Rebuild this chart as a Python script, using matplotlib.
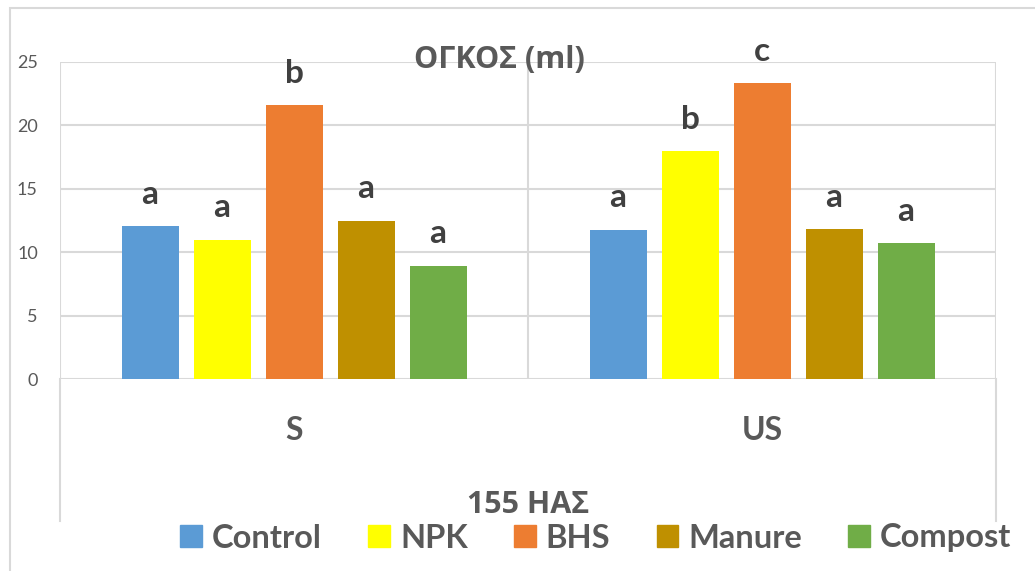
import numpy as np
import matplotlib
matplotlib.use("Agg")
import matplotlib.pyplot as plt
from matplotlib.patches import Rectangle, Patch

plt.rcParams['font.family'] = ['Lato', 'Open Sans', 'DejaVu Sans']

# data
groups = ["S", "US"]
treatments = ["Control", "NPK", "BHS", "Manure", "Compost"]
colors = ["#5B9BD5", "#FFFF00", "#ED7D31", "#BF9000", "#70AD47"]
s_vals = [12.1, 11.0, 21.6, 12.5, 8.95]
us_vals = [11.8, 18.0, 23.35, 11.85, 10.7]
s_letters = ["a", "a", "b", "a", "a"]
us_letters = ["a", "b", "c", "a", "a"]
yticks = [0, 5, 10, 15, 20, 25]

values = np.array([s_vals, us_vals])
letters = [s_letters, us_letters]

grid_c = "#D9D9D9"
txt_c = "#595959"
lab_c = "#404040"
greek = ['Open Sans', 'DejaVu Sans']

fig = plt.figure(figsize=(10.35, 5.71), dpi=100)
ax = fig.add_axes([60/1035, 1 - 379.3/571, 936/1035, 317.3/571])

# outer chart border
fig.patches.append(Rectangle((10/1035, -0.05), 1.2, 1 - 8/571 + 0.05, transform=fig.transFigure,
                             fill=False, edgecolor=grid_c, lw=1.5))

pitch = 72/468
width = 57/468
x = np.arange(len(groups))
for i, t in enumerate(treatments):
    xs = x + (i - 2) * pitch
    ax.bar(xs, values[:, i], width, color=colors[i], label=t, zorder=3)
    for j in range(len(groups)):
        ax.text(xs[j], values[j, i] + 1.75, letters[j][i], ha='center', va='baseline',
                fontsize=24, fontweight='bold', color=lab_c, zorder=4)

ax.set_xlim(-0.5, 1.5)
ax.set_ylim(0, 25)
ax.set_yticks(yticks)
ax.tick_params(axis='y', length=0, pad=16, labelsize=13, labelcolor=txt_c)
ax.set_xticks([])
ax.grid(axis='y', color=grid_c, lw=1.5, zorder=0)
for s in ax.spines.values():
    s.set_visible(False)

# vertical separators
for xv in [-0.5, 0.5, 1.5]:
    ax.axvline(xv, color=grid_c, lw=1.5, zorder=0)
tr = ax.get_xaxis_transform()
for xv in [-0.5, 1.5]:
    ax.plot([xv, xv], [0, -0.447], color=grid_c, lw=1.5, transform=tr, clip_on=False)

for j, g in enumerate(groups):
    ax.text(x[j], -0.191, g, transform=tr, ha='center', va='baseline',
            fontsize=23, fontweight='bold', color=txt_c)
ax.text(0.5, -0.42, "155 ΗΑΣ", transform=tr, ha='center', va='baseline',
        fontsize=22, fontweight='bold', color=txt_c, family=greek)

fig.text(499/1035, 1 - 60/571, "ΟΓΚΟΣ (ml)", ha='center', va='center',
         fontsize=22, fontweight='bold', color=txt_c, family=greek)

handles = [Patch(color=c) for c in colors]
fig.legend(handles, treatments, loc='center', bbox_to_anchor=(596/1035, 1 - 538/571), ncol=5,
           frameon=False, handlelength=0.66, handleheight=0.66, handletextpad=0.31,
           columnspacing=1.42, prop={'size': 23.5, 'weight': 'bold'}, labelcolor=txt_c)

fig.savefig("out.png", dpi=100)
